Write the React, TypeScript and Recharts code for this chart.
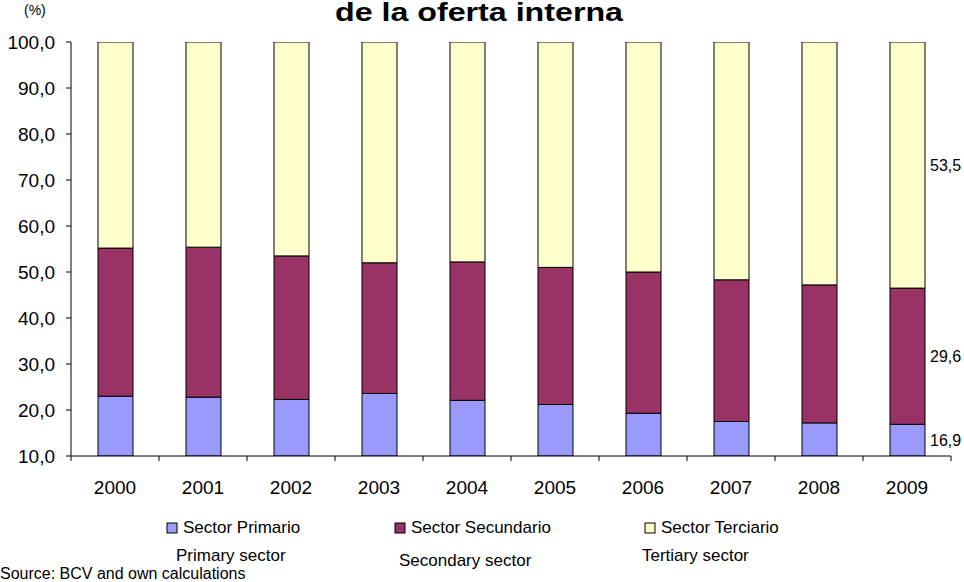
import React from 'react';
import { BarChart, Bar, XAxis, YAxis, LabelList } from 'recharts';

const years = ['2000', '2001', '2002', '2003', '2004', '2005', '2006', '2007', '2008', '2009'];
const primario = [23.0, 22.8, 22.3, 23.6, 22.1, 21.2, 19.3, 17.5, 17.2, 16.9];
const secundario = [32.2, 32.6, 31.2, 28.4, 30.1, 29.8, 30.7, 30.8, 30.0, 29.6];
const terciario = [44.8, 44.6, 46.5, 48.0, 47.8, 49.0, 50.0, 51.7, 52.8, 53.5];
const yTicks = [10, 20, 30, 40, 50, 60, 70, 80, 90, 100];

const seriesNames = ['Sector Primario', 'Sector Secundario', 'Sector Terciario'];
const seriesEnglish = ['Primary sector', 'Secondary sector', 'Tertiary sector'];
const colors = ['#9999FF', '#993366', '#FFFFCC'];

const W = 964;
const H = 582;
const PLOT_LEFT = 71;
const PLOT_RIGHT = 951;
const PLOT_TOP = 42;
const PLOT_BOTTOM = 456;
const BAND = (PLOT_RIGHT - PLOT_LEFT) / years.length;
const FONT = '"Liberation Sans", Arial, sans-serif';

const data = years.map((year, i) => ({
  year,
  primario: primario[i],
  secundario: secundario[i],
  terciario: terciario[i],
}));

const fmt = (v: number) => v.toFixed(1).replace('.', ',');

// x ticks sit on the category boundaries, not the centers
const YearTick = (props: any) => {
  const { x, y, payload, index } = props;
  const axisY = y - 5;
  return (
    <g>
      {index === 0 && (
        <line x1={x - BAND / 2} x2={x - BAND / 2} y1={axisY} y2={axisY + 5} stroke="#000" />
      )}
      <line x1={x + BAND / 2} x2={x + BAND / 2} y1={axisY} y2={axisY + 5} stroke="#000" />
      <text x={x} y={axisY + 38} textAnchor="middle" fontSize={19} fontFamily={FONT} fill="#000">
        {payload.value}
      </text>
    </g>
  );
};

// value label to the right of the last bar; bottom clamped to the visible plot area
const lastLabel = (props: any) => {
  const { x, y, width, height, value, index } = props;
  if (index !== years.length - 1) return null;
  const bottom = Math.min(y + height, PLOT_BOTTOM);
  const mid = (y + bottom) / 2;
  return (
    <text x={x + width + 5} y={mid} dy="0.35em" fontSize={16} fontFamily={FONT} fill="#000">
      {fmt(value)}
    </text>
  );
};

const legendSquareX = [167, 395, 645];
const englishX = [176, 399, 642];
const englishY = [561, 566, 561];

export default function App() {
  return (
    <div style={{ position: 'absolute', left: 0, top: 0, width: W, height: H, background: '#fff' }}>
      <BarChart
        width={W}
        height={H}
        data={data}
        barSize={35}
        margin={{ top: PLOT_TOP, right: W - PLOT_RIGHT, left: PLOT_LEFT - 60, bottom: H - PLOT_BOTTOM - 30 }}
      >
        <XAxis
          dataKey="year"
          height={30}
          tickLine={false}
          tickSize={5}
          tickMargin={0}
          axisLine={{ stroke: '#000' }}
          tick={<YearTick />}
          interval={0}
        />
        <YAxis
          width={60}
          domain={[10, 100]}
          allowDataOverflow
          ticks={yTicks}
          tickFormatter={fmt}
          tickSize={5}
          tickMargin={11}
          axisLine={{ stroke: '#000' }}
          tickLine={{ stroke: '#000' }}
          tick={{ fontSize: 19, fontFamily: FONT, fill: '#000' }}
        />
        <Bar dataKey="primario" stackId="a" fill={colors[0]} stroke="#000" strokeWidth={1} isAnimationActive={false}>
          <LabelList dataKey="primario" content={lastLabel} />
        </Bar>
        <Bar dataKey="secundario" stackId="a" fill={colors[1]} stroke="#000" strokeWidth={1} isAnimationActive={false}>
          <LabelList dataKey="secundario" content={lastLabel} />
        </Bar>
        <Bar dataKey="terciario" stackId="a" fill={colors[2]} stroke="#000" strokeWidth={1} isAnimationActive={false}>
          <LabelList dataKey="terciario" content={lastLabel} />
        </Bar>

        <text x={479} y={21} textAnchor="middle" fontSize={26} fontWeight="bold" fontFamily={FONT}
          textLength={288} lengthAdjust="spacingAndGlyphs" fill="#000">
          de la oferta interna
        </text>
        <text x={24} y={15} fontSize={14} fontFamily={FONT} fill="#000">(%)</text>

        {seriesNames.map((name, i) => (
          <g key={name}>
            <rect x={legendSquareX[i]} y={523} width={10} height={10} fill={colors[i]} stroke="#000" />
            <text x={legendSquareX[i] + 16} y={533} fontSize={17} fontFamily={FONT} fill="#000">{name}</text>
            <text x={englishX[i]} y={englishY[i]} fontSize={17} fontFamily={FONT} fill="#000">{seriesEnglish[i]}</text>
          </g>
        ))}
        <text x={0} y={579} fontSize={16} fontFamily={FONT} fill="#000">Source: BCV and own calculations</text>
      </BarChart>
    </div>
  );
}
